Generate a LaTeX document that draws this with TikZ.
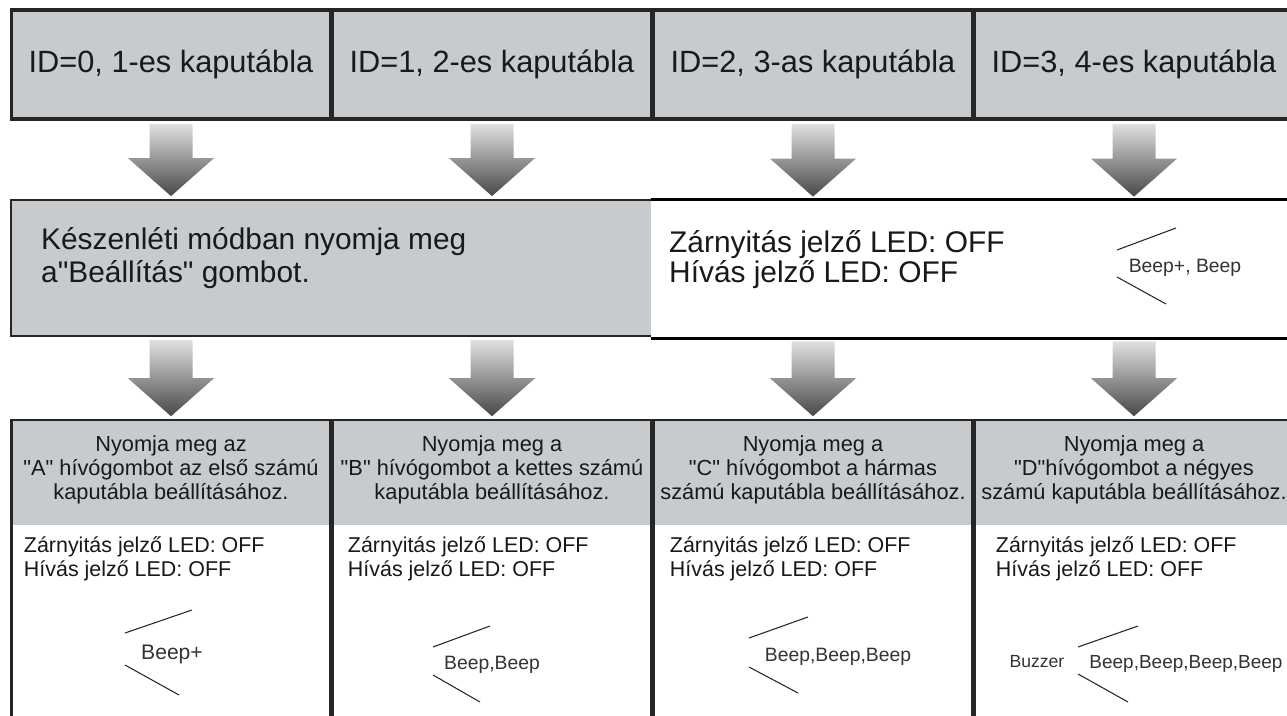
\documentclass[tikz,border=0pt]{standalone}
\usepackage{fontspec}
\setmainfont{Liberation Sans}[Ligatures=TeXOff]
\usetikzlibrary{calc}
\definecolor{panelgray}{RGB}{200,203,206}
\definecolor{inkgray}{RGB}{25,25,25}
\tikzset{
  idbox/.style={draw=black!85,line width=2pt,fill=panelgray,minimum width=6.38cm,minimum height=2.18cm,font=\fontsize{17.5}{19}\selectfont,text=inkgray},
  lowbox/.style={draw=black!85,line width=2pt,fill=white,minimum width=6.38cm,minimum height=6.18cm},
  headfill/.style={fill=panelgray,inner sep=0pt,minimum width=6.31cm,minimum height=2.08cm,anchor=north},
  headtext/.style={align=center,font=\fontsize{12.4}{13.6}\selectfont,text=inkgray},
  ledtext/.style={align=left,anchor=west,font=\fontsize{12.2}{13.6}\selectfont,text=inkgray},
  bigtext/.style={align=left,anchor=west,font=\fontsize{17}{18.5}\selectfont,text=inkgray},
  beeptext/.style={font=\fontsize{11}{13}\selectfont,text=black!80},
  arrowshade/.style={top color=black!12,bottom color=black!72},
  soundline/.style={line width=0.6pt,black!85}
}
\newcommand\blockarrow[2]{\shade[arrowshade] let \p1=(#1), \p2=(#2) in
  (\x2-0.43cm,\y1-0.06cm) -- (\x2+0.43cm,\y1-0.06cm) -- (\x2+0.43cm,\y2+0.82cm)
  -- (\x2+0.86cm,\y2+0.82cm) -- (\x2,\y2+0.06cm) -- (\x2-0.86cm,\y2+0.82cm)
  -- (\x2-0.43cm,\y2+0.82cm) -- cycle;}

\begin{document}
\begin{tikzpicture}
	\useasboundingbox (0,0) rectangle (25.74,-14.32);
	\clip (0,0) rectangle (25.74,-14.32);
	%TOP BOXES
	\node[idbox] (id0) at (3.42,-1.29) {ID=0, 1-es kaputábla};
	\node[idbox] (id1) at (9.84,-1.29) {ID=1, 2-es kaputábla};
	\node[idbox] (id2) at (16.26,-1.29) {ID=2, 3-as kaputábla};
	\node[idbox] (id3) at (22.68,-1.29) {ID=3, 4-es kaputábla};
	
	%MIDDLE BAND
	\node[draw=black!85,line width=1pt,fill=panelgray,minimum width=12.82cm,minimum height=2.72cm] (band) at (6.63,-5.36) {};
	\node[fill=white,minimum width=12.96cm,minimum height=2.76cm] (status) at (19.5,-5.38) {};
	\draw[line width=1.5pt] (status.north west) -- (status.north east);
	\draw[line width=1.5pt] (status.south west) -- (status.south east);
	\node[bigtext] (standby) at (0.7,-5.16) {Készenléti módban nyomja meg\\a"Beállítás" gombot.};
	\node[bigtext,font=\fontsize{17}{17}\selectfont] (leds) at (13.26,-5.2) {Zárnyitás jelző LED: OFF\\Hívás jelző LED: OFF};
	\node[beeptext] (beep0) at (23.7,-5.36) {Beep+, Beep};
	\draw[soundline] (22.34,-5.0)--(23.52,-4.56);
	\draw[soundline] (22.34,-5.54)--(23.32,-6.08);
	
	%ARROWS
	\blockarrow{id0.south}{band.north -| id0.south}
	\blockarrow{id1.south}{band.north -| id1.south}
	\blockarrow{id2.south}{status.north -| id2.south}
	\blockarrow{id3.south}{status.north -| id3.south}
	
	%BOTTOM BOXES
	\node[lowbox] (boxA) at (3.42,-11.51) {};
	\node[lowbox] (boxB) at (9.84,-11.51) {};
	\node[lowbox] (boxC) at (16.26,-11.51) {};
	\node[lowbox] (boxD) at (22.68,-11.51) {};
	\node[headfill] (headA) at ([yshift=-1pt]boxA.north) {};
	\node[headfill] (headB) at ([yshift=-1pt]boxB.north) {};
	\node[headfill] (headC) at ([yshift=-1pt]boxC.north) {};
	\node[headfill] (headD) at ([yshift=-1pt]boxD.north) {};
	%
	\blockarrow{band.south -| boxA.north}{boxA.north}
	\blockarrow{band.south -| boxB.north}{boxB.north}
	\blockarrow{status.south -| boxC.north}{boxC.north}
	\blockarrow{status.south -| boxD.north}{boxD.north}
	%
	\node[headtext] (askA) at ([yshift=2pt]headA.center) {Nyomja meg az\\"A" hívógombot az első számú\\kaputábla beállításához.};
	\node[headtext] (askB) at ([yshift=2pt]headB.center) {Nyomja meg a\\"B" hívógombot a kettes számú\\kaputábla beállításához.};
	\node[headtext] (askC) at ([yshift=2pt]headC.center) {Nyomja meg a\\"C" hívógombot a hármas\\számú kaputábla beállításához.};
	\node[headtext] (askD) at ([yshift=2pt]headD.center) {Nyomja meg a\\"D"hívógombot a négyes\\számú kaputábla beállításához.};
	%
	\node[ledtext] (ledA) at ($(boxA.north west)+(0.16,-2.8)$) {Zárnyitás jelző LED: OFF\\Hívás jelző LED: OFF};
	\node[ledtext] (ledB) at ($(boxB.north west)+(0.22,-2.8)$) {Zárnyitás jelző LED: OFF\\Hívás jelző LED: OFF};
	\node[ledtext] (ledC) at ($(boxC.north west)+(0.24,-2.8)$) {Zárnyitás jelző LED: OFF\\Hívás jelző LED: OFF};
	\node[ledtext] (ledD) at ($(boxD.north west)+(0.34,-2.8)$) {Zárnyitás jelző LED: OFF\\Hívás jelző LED: OFF};
	
	%BEEPS
	\node[beeptext,font=\fontsize{12}{14}\selectfont] (beepA) at (3.44,-13.08) {Beep+};
	\draw[soundline] (2.5,-12.66)--(3.84,-12.2);		\draw[soundline] (2.5,-13.3)--(3.58,-13.9);
	\node[beeptext] (beepB) at (9.84,-13.3) {Beep,Beep};
	\draw[soundline] (8.66,-12.94)--(9.8,-12.52);		\draw[soundline] (8.66,-13.5)--(9.6,-14.04);
	\node[beeptext] (beepC) at (16.76,-13.14) {Beep,Beep,Beep};
	\draw[soundline] (14.98,-12.76)--(16.16,-12.34);	\draw[soundline] (14.98,-13.34)--(15.96,-13.86);
	\node[beeptext,font=\fontsize{10}{12}\selectfont] (buzz) at (20.74,-13.24) {Buzzer};
	\node[beeptext,font=\fontsize{10.8}{13}\selectfont] (beepD) at (23.72,-13.28) {Beep,Beep,Beep,Beep};
	\draw[soundline] (21.56,-12.94)--(22.76,-12.52);	\draw[soundline] (21.56,-13.48)--(22.56,-14.04);
\end{tikzpicture}
\end{document}
